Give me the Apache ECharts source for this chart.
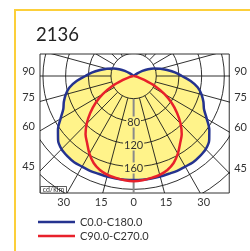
<!DOCTYPE html>
<html>
<head>
<meta charset="utf-8">
<script src="https://cdn.jsdelivr.net/npm/echarts@6/dist/echarts.min.js"></script>
<style>
html, body { margin: 0; padding: 0; background: #fff; }
#chart { width: 250px; height: 251px; }
</style>
</head>
<body>
<div id="chart"></div>
<script>
// gamma angles in degrees from nadir, intensities in cd/klm
var angles = [0, 5, 10, 15, 20, 25, 30, 35, 40, 45, 50, 55, 60, 65, 70, 75, 80, 85, 90,
  95, 100, 105, 110, 115, 120, 125, 130, 135, 140, 145, 150, 155, 160, 165, 170, 175, 180];
var c0c180 = [181, 181, 181, 181, 181, 182, 182, 183, 182, 180, 174, 163, 149, 137, 131, 124, 115, 101, 85,
  73, 60, 49, 38, 28, 18, 8, 0, 0, 0, 0, 0, 0, 0, 0, 0, 0, 0];
var c90c270 = [183, 182, 180, 178, 174, 167, 156, 143, 132, 117, 100, 82, 63, 42, 20, 8, 3, 1, 0,
  0, 0, 0, 0, 0, 0, 0, 0, 0, 0, 0, 0, 0, 0, 0, 0, 0, 0];
var rings = [40, 80, 120, 160, 200, 240, 280];
var ringLabels = [80, 120, 160];
var sideTicks = [90, 75, 60, 45];
var bottomTicks = [-30, -15, 0, 15, 30];

var px = 0.575;            // pixels per cd/klm
var cx = 135, cy = 76;     // pole on the page
var gl = 40, gt = 54, gr = 232, gb = 193;
var xMin = -(cx - gl) / px, xMax = (gr - cx) / px;
var yMax = (cy - gt) / px, yMin = -(gb - cy) / px;
var rad = Math.PI / 180;
var dBottom = 123 / px;
var dLeft = (cx - gl) / px, dRight = (gr - cx) / px;
var fillColor = '#fff38a';

function toXY(a, v, side) {
  return [side * v * Math.sin(a * rad), -v * Math.cos(a * rad)];
}
function curve(vals) {
  var k = 0;
  while (k < vals.length - 1 && vals[k] > 0) k++;
  var pts = [];
  for (var i = k; i >= 0; i--) pts.push(toXY(angles[i], vals[i], -1));
  for (var j = 1; j <= k; j++) pts.push(toXY(angles[j], vals[j], 1));
  return pts;
}
var blueLine = curve(c0c180);
var redLine = curve(c90c270);

var spokes = [];
for (var a = 0; a < 360; a += 15) spokes.push(a);

var chart = echarts.init(document.getElementById('chart'));

var option = {
  animation: false,
  textStyle: { fontFamily: 'Lato' },
  grid: {
    left: gl, top: gt, width: gr - gl, height: gb - gt,
    show: true, borderColor: '#333', borderWidth: 1
  },
  xAxis: {
    type: 'value', min: xMin, max: xMax,
    axisLine: { show: false }, axisTick: { show: false }, splitLine: { show: false },
    axisLabel: {
      customValues: bottomTicks.map(function (t) { return Math.tan(t * rad) * dBottom; }),
      formatter: function (v) { return Math.round(Math.atan(Math.abs(v) / dBottom) / rad); },
      fontSize: 11, color: '#333', margin: 4
    }
  },
  yAxis: [
    {
      type: 'value', min: yMin, max: yMax, position: 'left',
      axisLine: { show: false }, axisTick: { show: false }, splitLine: { show: false },
      axisLabel: {
        customValues: sideTicks.map(function (t) { return -Math.tan((90 - t) * rad) * dLeft; }),
        formatter: function (v) { return 90 - Math.round(Math.atan(Math.abs(v) / dLeft) / rad); },
        fontSize: 11, color: '#333', margin: 5, verticalAlign: 'bottom', lineHeight: 9
      }
    },
    {
      type: 'value', min: yMin, max: yMax, position: 'right',
      axisLine: { show: false }, axisTick: { show: false }, splitLine: { show: false },
      axisLabel: {
        customValues: sideTicks.map(function (t) { return -Math.tan((90 - t) * rad) * dRight; }),
        formatter: function (v) { return 90 - Math.round(Math.atan(Math.abs(v) / dRight) / rad); },
        fontSize: 11, color: '#333', margin: 5, verticalAlign: 'bottom', lineHeight: 9
      }
    }
  ],
  legend: {
    orient: 'vertical', left: 38, top: 215.5, padding: 0, itemGap: 1,
    icon: 'rect', itemWidth: 37, itemHeight: 2.5,
    textStyle: { fontSize: 11, color: '#333', lineHeight: 13 },
    data: ['C0.0-C180.0', 'C90.0-C270.0']
  },
  series: [
    {
      // yellow area under C0-C180
      type: 'custom', z: 1, clip: true, silent: true,
      data: [[0, 0]],
      renderItem: function (params, api) {
        return {
          type: 'polygon',
          shape: { points: blueLine.map(function (p) { return api.coord(p); }), smooth: 0.3 },
          style: { fill: fillColor, stroke: 'none' }
        };
      }
    },
    {
      // polar net
      type: 'custom', z: 2, clip: true, silent: true,
      data: [[0, 0]],
      renderItem: function (params, api) {
        var c = api.coord([0, 0]);
        var kids = [];
        rings.forEach(function (r) {
          kids.push({
            type: 'circle',
            shape: { cx: c[0], cy: c[1], r: api.size([r, 0])[0] },
            style: { fill: 'none', stroke: '#1a1a1a', lineWidth: 0.9 }
          });
        });
        spokes.forEach(function (s) {
          var p0 = api.coord(toXY(s, rings[0], 1));
          var p1 = api.coord(toXY(s, 400, 1));
          kids.push({
            type: 'line',
            shape: { x1: p0[0], y1: p0[1], x2: p1[0], y2: p1[1] },
            style: { stroke: s === 0 ? '#8a8a8a' : '#1a1a1a', lineWidth: s === 0 ? 2 : 0.9 }
          });
        });
        return { type: 'group', children: kids };
      }
    },
    {
      // ring values on the nadir axis
      type: 'custom', z: 3, silent: true,
      data: ringLabels.map(function (v) { return [0, -v]; }),
      renderItem: function (params, api) {
        var p = api.coord([api.value(0), api.value(1)]);
        return {
          type: 'text', x: p[0], y: p[1],
          style: {
            text: String(ringLabels[params.dataIndex]), fill: '#333',
            font: '11px Lato', align: 'center', verticalAlign: 'middle',
            backgroundColor: fillColor, padding: [0, 1]
          }
        };
      }
    },
    {
      name: 'C0.0-C180.0', type: 'line', z: 4, clip: true,
      data: blueLine, showSymbol: false, smooth: 0.3,
      lineStyle: { color: '#25338f', width: 2.5 }, itemStyle: { color: '#25338f' }
    },
    {
      name: 'C90.0-C270.0', type: 'line', z: 5, clip: true,
      data: redLine, showSymbol: false, smooth: 0.3,
      lineStyle: { color: '#e8212b', width: 2.5 }, itemStyle: { color: '#e8212b' }
    }
  ],
  graphic: [
    {
      type: 'rect', z: 10, silent: true,
      shape: { x: 15, y: 10, width: 300, height: 300 },
      style: { fill: 'none', stroke: '#fccf3a', lineWidth: 2 }
    },
    {
      type: 'text', z: 10, left: 36, top: 25.5,
      style: { text: '2136', font: '18.5px Lato', fill: '#222' }
    },
    {
      type: 'group', z: 10, silent: true,
      children: [
        {
          type: 'rect', shape: { x: 40.5, y: 186.5, width: 26, height: 6.5 },
          style: { fill: '#fff', stroke: '#333', lineWidth: 0.8 }
        },
        {
          type: 'text', x: 53.5, y: 190,
          style: { text: 'cd/klm', font: '7px Lato', fill: '#333', align: 'center', verticalAlign: 'middle' }
        }
      ]
    }
  ]
};

chart.setOption(option);
</script>
</body>
</html>
